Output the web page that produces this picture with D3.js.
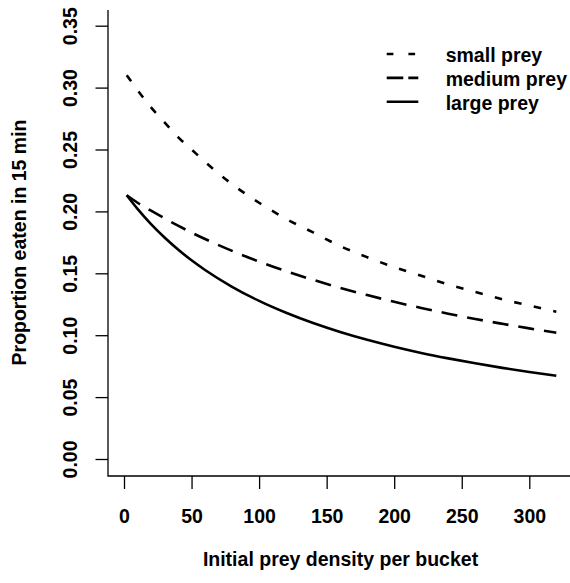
<!DOCTYPE html>
<html>
<head>
<meta charset="utf-8">
<script src="https://cdn.jsdelivr.net/npm/d3@7"></script>
<style>
  html, body { margin: 0; padding: 0; background: #fff; }
  svg { display: block; }
  text { font-family: "Liberation Sans", Arial, Helvetica, sans-serif; font-weight: bold; fill: #000; }
</style>
</head>
<body>
<div id="chart"></div>
<script>
// Initial prey density per bucket
const density = [2, 10, 20, 30, 40, 50, 60, 80, 100, 120, 140, 160, 180, 200, 220, 240, 260, 280, 300, 320];

// Proportion eaten in 15 min, per prey size
const smallPrey  = [0.310, 0.298, 0.284, 0.272, 0.260, 0.250, 0.240, 0.222, 0.207, 0.194, 0.183, 0.172, 0.163, 0.155, 0.148, 0.141, 0.135, 0.129, 0.124, 0.119];
const mediumPrey = [0.213, 0.207, 0.2006, 0.1944, 0.1885, 0.1829, 0.1777, 0.1681, 0.1595, 0.1517, 0.1447, 0.1383, 0.1324, 0.1270, 0.1220, 0.1174, 0.1131, 0.1092, 0.1055, 0.1020];
const largePrey  = [0.213, 0.2020, 0.1897, 0.1789, 0.1692, 0.1605, 0.1527, 0.1391, 0.1277, 0.1181, 0.1098, 0.1026, 0.0963, 0.0907, 0.0857, 0.0813, 0.0773, 0.0736, 0.0703, 0.0673];

const seriesNames = ["small prey", "medium prey", "large prey"];
const xTicks = [0, 50, 100, 150, 200, 250, 300];
const yTicks = [0.00, 0.05, 0.10, 0.15, 0.20, 0.25, 0.30, 0.35];

const W = 570, H = 583;
const FONT = 19.5;

const svg = d3.select("#chart").append("svg")
  .attr("width", W).attr("height", H);

const x = d3.scaleLinear().domain([0, 300]).range([124, 529.3]);
const y = d3.scaleLinear().domain([0, 0.35]).range([459, 25.7]);

// plot frame: left and bottom sides only
const frameLeft = 108, frameBottom = 476, frameTop = 10, frameRight = W;
svg.append("path")
  .attr("d", `M${frameLeft},${frameTop}V${frameBottom}H${frameRight}`)
  .attr("fill", "none").attr("stroke", "#000").attr("stroke-width", 1.3);

// x axis
const xAxis = d3.axisBottom(x).tickValues(xTicks).tickSize(13).tickPadding(0)
  .tickFormat(d3.format("d"));
const gx = svg.append("g").attr("transform", `translate(0,${frameBottom})`).call(xAxis);
gx.select(".domain").remove();
gx.selectAll(".tick line").attr("stroke", "#000").attr("stroke-width", 1.3);
gx.selectAll(".tick text")
  .attr("y", null).attr("dy", null)
  .attr("transform", "translate(0,46.5)")
  .style("font-size", FONT + "px")
  .style("font-family", '"Liberation Sans", Arial, sans-serif')
  .style("font-weight", "bold");

// y axis with rotated tick labels
const yAxis = d3.axisLeft(y).tickValues(yTicks).tickSize(12.5).tickPadding(0)
  .tickFormat(d3.format(".2f"));
const gy = svg.append("g").attr("transform", `translate(${frameLeft},0)`).call(yAxis);
gy.select(".domain").remove();
gy.selectAll(".tick line").attr("stroke", "#000").attr("stroke-width", 1.3);
gy.selectAll(".tick text")
  .attr("x", null).attr("dy", null)
  .attr("text-anchor", "middle")
  .attr("transform", "translate(-31,0) rotate(-90)")
  .style("font-size", FONT + "px")
  .style("font-family", '"Liberation Sans", Arial, sans-serif')
  .style("font-weight", "bold");

// axis titles
svg.append("text")
  .attr("x", 340.5).attr("y", 566)
  .attr("text-anchor", "middle")
  .style("font-size", FONT + "px")
  .text("Initial prey density per bucket");

svg.append("text")
  .attr("transform", "translate(26,242.5) rotate(-90)")
  .attr("text-anchor", "middle")
  .style("font-size", FONT + "px")
  .text("Proportion eaten in 15 min");

// curves
const series = [
  { name: seriesNames[0], values: smallPrey,  dash: "7.5,12.5", legendDash: "6.7,15" },
  { name: seriesNames[1], values: mediumPrey, dash: "16,10",    legendDash: "16.6,5" },
  { name: seriesNames[2], values: largePrey,  dash: null,       legendDash: null }
];

const line = d3.line()
  .x((d, i) => x(density[i]))
  .y(d => y(d))
  .curve(d3.curveMonotoneX);

svg.append("g").selectAll("path")
  .data(series)
  .join("path")
  .attr("d", s => line(s.values))
  .attr("fill", "none")
  .attr("stroke", "#000")
  .attr("stroke-width", 2.6)
  .attr("stroke-dasharray", s => s.dash);

// legend
const legendRow = d3.scaleLinear().domain([0, 2]).range([54, 101.7]);
const legend = svg.append("g");
const rows = legend.selectAll("g").data(series).join("g")
  .attr("transform", (s, i) => `translate(0,${legendRow(i)})`);
rows.append("line")
  .attr("x1", 386.7).attr("x2", 418.3)
  .attr("y1", 0).attr("y2", 0)
  .attr("stroke", "#000").attr("stroke-width", 2.6)
  .attr("stroke-dasharray", s => s.legendDash);
rows.append("text")
  .attr("x", 445.7).attr("y", 7.8)
  .style("font-size", FONT + "px")
  .text(s => s.name);
</script>
</body>
</html>
